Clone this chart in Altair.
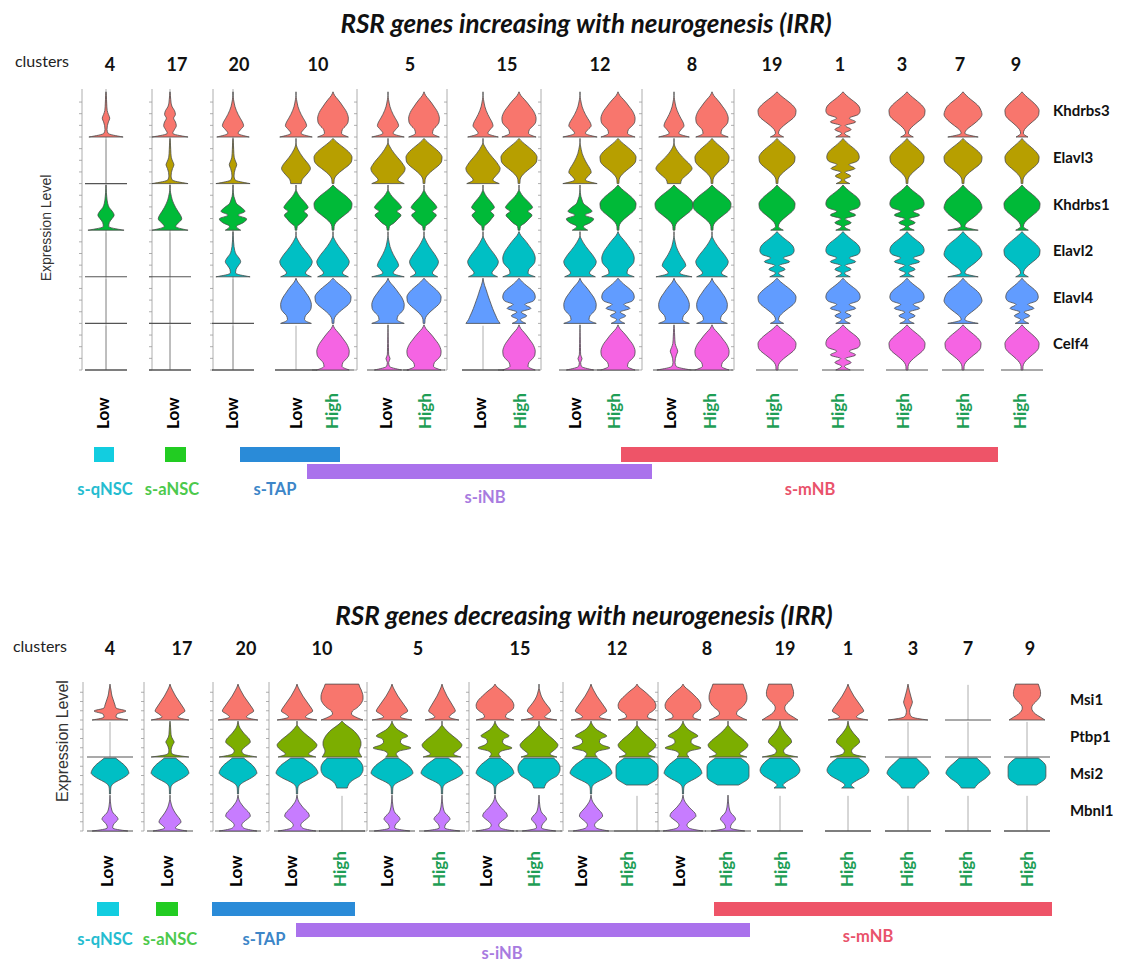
import altair as alt
import pandas as pd

# ------------------------------------------------------------------ data
TITLE_TOP = "RSR genes increasing with neurogenesis (IRR)"
TITLE_BOTTOM = "RSR genes decreasing with neurogenesis (IRR)"
CLUSTERS = ["4", "17", "20", "10", "5", "15", "12", "8", "19", "1", "3", "7", "9"]
# one entry per violin column (cluster, expression group)
COLUMN_CLUSTER = ["4", "17", "20", "10", "10", "5", "5", "15", "15", "12", "12", "8", "8",
                  "19", "1", "3", "7", "9"]
COLUMN_GROUP = ["Low", "Low", "Low", "Low", "High", "Low", "High", "Low", "High", "Low", "High",
                "Low", "High", "High", "High", "High", "High", "High"]

TOP_GENES = ["Khdrbs3", "Elavl3", "Khdrbs1", "Elavl2", "Elavl4", "Celf4"]
TOP_COLORS = ["#F8766D", "#B79F00", "#00BA38", "#00BFC4", "#619CFF", "#F564E3"]
BOTTOM_GENES = ["Msi1", "Ptbp1", "Msi2", "Mbnl1"]
BOTTOM_COLORS = ["#F8766D", "#7CAE00", "#00BFC4", "#C77CFF"]

CELL_TYPES = ["s-qNSC", "s-aNSC", "s-TAP", "s-iNB", "s-mNB"]
CELL_BAR_COLORS = ["#12CDE0", "#22CC22", "#2A8BD8", "#AA72EC", "#EE5468"]
CELL_TEXT_COLORS = ["#25BCD0", "#4CC94C", "#3D86C8", "#A87BDF", "#E9536B"]

# violin outlines: relative half-width at 13 equally
# spaced expression levels (bottom -> top); None = no cells at that level
SHAPES = {
    "spike":     [1.0, 0.12, 0.06, 0.08, 0.14, 0.22, 0.14, 0.07, 0.05, 0.04, 0.03, 0.02, 0.0],
    "spike2":    [1.0, 0.15, 0.25, 0.35, 0.3, 0.2, 0.3, 0.25, 0.12, 0.06, 0.04, 0.02, 0.0],
    "spikeD":    [1.0, 0.15, 0.18, 0.32, 0.45, 0.35, 0.18, 0.1, 0.06, 0.04, 0.02, 0.01, 0.0],
    "spikeB":    [0.9, 0.3, 0.35, 0.8, 0.3, 0.25, 0.2, 0.15, 0.1, 0.07, 0.05, 0.02, 0.0],
    "spikeHigh": [1.0, 0.2, 0.1, 0.08, 0.12, 0.18, 0.22, 0.18, 0.14, 0.1, 0.06, 0.03, 0.0],
    "tent":      [0.95, 0.3, 0.45, 0.62, 0.55, 0.42, 0.3, 0.2, 0.12, 0.07, 0.03, 0.0, 0.0],
    "tentTall":  [0.95, 0.4, 0.55, 0.75, 0.68, 0.58, 0.48, 0.38, 0.28, 0.2, 0.12, 0.05, 0.0],
    "pear":      [0.9, 0.5, 0.55, 0.75, 0.88, 0.9, 0.85, 0.75, 0.6, 0.45, 0.28, 0.1, 0.0],
    "mound":     [0.9, 0.55, 0.7, 0.88, 0.95, 0.85, 0.7, 0.52, 0.35, 0.2, 0.08, 0.0, 0.0],
    "diamond":   [0.35, 0.4, 0.6, 0.82, 0.95, 0.85, 0.65, 0.45, 0.28, 0.14, 0.04, 0.0, 0.0],
    "diamondF":  [1.0, 0.3, 0.2, 0.3, 0.5, 0.65, 0.6, 0.45, 0.3, 0.18, 0.08, 0.03, 0.0],
    "bulb":      [0.05, 0.06, 0.15, 0.35, 0.6, 0.85, 0.98, 1.0, 0.9, 0.7, 0.45, 0.2, 0.0],
    "bulbf":     [0.35, 0.08, 0.15, 0.35, 0.6, 0.85, 0.98, 1.0, 0.9, 0.7, 0.45, 0.2, 0.0],
    "bulbF2":    [0.8, 0.1, 0.2, 0.45, 0.7, 0.9, 1.0, 0.95, 0.85, 0.65, 0.4, 0.18, 0.0],
    "jag":       [0.4, 0.08, 0.45, 0.12, 0.7, 0.35, 0.85, 0.95, 0.9, 0.72, 0.45, 0.2, 0.0],
    "wiggle":    [0.45, 0.2, 0.6, 0.8, 0.3, 0.7, 0.5, 0.22, 0.12, 0.05, 0.02, 0.0, 0.0],
    "wiggleH":   [0.05, 0.08, 0.35, 0.55, 0.72, 0.5, 0.75, 0.62, 0.42, 0.22, 0.08, 0.0, 0.0],
    "wiggle2":   [0.3, 0.2, 0.35, 0.9, 0.55, 0.4, 0.45, 0.75, 0.55, 0.3, 0.15, 0.05, 0.0],
    "thin":      [0.8, 0.08, 0.04, 0.12, 0.04, 0.03, 0.03, 0.02, 0.02, 0.01, 0.01, 0.0, 0.0],
    "cone":      [1.0, 0.85, 0.75, 0.65, 0.56, 0.48, 0.4, 0.32, 0.25, 0.18, 0.1, 0.04, 0.0],
    "flat":      [1.0, 0.65, 0.45, 0.5, 0.7, 0.85, 0.95, 1.0, 1.0, 0.97, 0.92, 0.85, 0.8],
    "hourglass": [0.95, 0.7, 0.45, 0.3, 0.25, 0.3, 0.45, 0.6, 0.7, 0.72, 0.7, 0.65, 0.6],
    "dome":      [1.0, 0.9, 0.85, 0.9, 0.95, 0.95, 0.9, 0.82, 0.7, 0.55, 0.35, 0.15, 0.0],
    "top":       [0.03, 0.03, 0.04, 0.1, 0.3, 0.6, 0.85, 1.0, 0.95, 0.85, 0.7, 0.5, 0.3],
    "topF":      [None, None, 0.3, 0.15, 0.3, 0.55, 0.8, 0.95, 1.0, 0.95, 0.85, 0.7, 0.5],
    "topcut":    [None, None, 0.25, 0.3, 0.4, 0.6, 0.85, 0.95, 1.0, 1.0, 0.95, 0.85, 0.7],
    "topbox":    [None, None, 0.3, 0.4, 0.55, 0.75, 0.9, 1.0, 0.95, 0.85, 0.7, 0.55, 0.4],
    "topflat":   [None, None, None, 0.5, 0.75, 0.95, 1.0, 1.0, 1.0, 1.0, 0.95, 0.8, 0.6],
}

TOP_SHAPE = {
    "Khdrbs3": ["spike", "spike2", "tent", "tent", "pear", "tent", "pear", "tent", "pear", "tent", "pear", "tent", "pear", "bulbf", "jag", "bulbf", "bulbF2", "bulbf"],
    "Elavl3":  ["empty", "spike", "spike", "diamond", "bulb", "mound", "bulb", "mound", "bulb", "tent", "bulb", "diamond", "bulb", "bulb", "jag", "bulb", "bulb", "bulb"],
    "Khdrbs1": ["spikeD", "tent", "wiggle", "wiggleH", "bulb", "wiggleH", "wiggleH", "wiggleH", "wiggleH", "wiggle", "bulb", "bulb", "bulb", "bulbf", "jag", "jag", "bulbF2", "bulbf"],
    "Elavl2":  ["empty", "empty", "spikeD", "mound", "mound", "tent", "mound", "mound", "pear", "mound", "pear", "tent", "mound", "jag", "jag", "jag", "bulbF2", "bulbf"],
    "Elavl4":  ["empty", "empty", "empty", "pear", "bulb", "pear", "bulb", "cone", "jag", "pear", "jag", "pear", "pear", "bulbf", "jag", "jag", "bulbF2", "jag"],
    "Celf4":   ["empty", "empty", "empty", "empty", "pear", "thin", "pear", "empty", "pear", "thin", "pear", "spike", "pear", "bulb", "jag", "bulb", "bulb", "bulb"],
}
TOP_WIDTH = {
    "Khdrbs3": [0.9, 0.95, 0.9, 0.9, 0.9, 0.9, 0.9, 0.85, 1.0, 0.95, 1.0, 0.85, 0.95, 1.0, 0.95, 0.95, 1.0, 0.9],
    "Elavl3":  [1.0, 0.95, 0.9, 0.8, 1.0, 0.95, 0.95, 0.95, 0.95, 0.95, 0.95, 1.0, 0.9, 0.95, 0.9, 0.9, 1.0, 0.9],
    "Khdrbs1": [0.95, 1.0, 0.9, 0.85, 1.0, 0.95, 0.9, 0.8, 0.95, 0.9, 0.95, 1.0, 1.0, 0.95, 0.95, 0.95, 1.0, 0.95],
    "Elavl2":  [1.0, 1.0, 0.9, 0.9, 0.9, 0.9, 0.8, 0.85, 0.95, 0.9, 0.95, 1.0, 0.9, 0.95, 0.95, 0.95, 1.0, 0.95],
    "Elavl4":  [1.0, 1.0, 1.0, 0.9, 0.95, 0.95, 0.9, 0.9, 0.9, 0.95, 0.9, 0.9, 0.9, 1.0, 0.95, 0.95, 1.0, 0.9],
    "Celf4":   [1.0, 1.0, 1.0, 1.0, 0.95, 0.9, 1.0, 1.0, 0.95, 0.9, 1.0, 0.9, 1.0, 1.0, 0.95, 0.95, 0.95, 0.9],
}
BOTTOM_SHAPE = {
    "Msi1":  ["spikeB", "tentTall", "tentTall", "tentTall", "flat", "tentTall", "tentTall", "pear", "tent", "tentTall", "pear", "pear", "flat", "hourglass", "tentTall", "spikeHigh", "empty", "hourglass"],
    "Ptbp1": ["empty", "spike", "diamondF", "mound", "dome", "wiggle2", "mound", "wiggle2", "mound", "wiggle2", "mound", "wiggle2", "mound", "diamondF", "diamondF", "empty", "empty", "empty"],
    "Msi2":  ["top", "top", "top", "top", "topcut", "top", "top", "top", "topcut", "top", "topflat", "top", "topflat", "topF", "topF", "topbox", "topbox", "topflat"],
    "Mbnl1": ["spikeD", "tent", "diamondF", "diamondF", "empty", "spikeD", "spikeD", "diamondF", "spikeD", "diamondF", "empty", "diamondF", "spikeD", "empty", "empty", "empty", "empty", "empty"],
}
BOTTOM_WIDTH = {
    "Msi1":  [0.95, 0.95, 1.0, 1.0, 1.0, 1.0, 0.85, 1.0, 0.9, 1.0, 1.0, 0.95, 0.9, 0.9, 1.0, 0.95, 1.0, 0.9],
    "Ptbp1": [1.0, 0.9, 0.9, 1.0, 0.95, 1.0, 1.0, 0.9, 0.95, 1.0, 0.95, 0.95, 1.0, 0.85, 0.85, 1.0, 1.0, 1.0],
    "Msi2":  [0.9, 0.9, 0.9, 1.0, 1.0, 1.0, 1.0, 0.9, 1.0, 1.0, 1.0, 0.9, 1.0, 0.95, 1.0, 1.0, 1.05, 0.9],
    "Mbnl1": [0.85, 0.85, 0.9, 0.9, 1.0, 0.85, 0.85, 0.9, 0.8, 0.85, 1.0, 0.95, 0.8, 1.0, 1.0, 1.0, 1.0, 1.0],
}

# ------------------------------------------------------------------ layout (positions only)
LAYOUT = {
    "top": dict(
        title=TITLE_TOP, title_xy=(586, 25), clusters_xy=(42, 62), cluster_y=66,
        cluster_x=[110, 177, 239, 318, 410, 507, 600, 692, 772, 840, 902, 960, 1016],
        col_x=[106, 170, 233, 296, 333, 388, 424, 483, 519, 580, 618, 674, 712, 777, 843, 907, 963, 1022],
        label_x=[104, 174, 233, 297, 333, 387, 426, 481, 521, 576, 615, 671, 711, 774, 839, 904, 964, 1021],
        label_y=429, base0=137, row_h=46.6, hw=19, line_hw=21,
        axis_x=[82, 152, 213, 357, 447, 541, 642, 734], axis_top=89,
        genes=TOP_GENES, colors=TOP_COLORS, shape=TOP_SHAPE, width=TOP_WIDTH,
        gene_x=1053, ylab_xy=(47, 228), ylab_size=14,
        bars=[(94, 114, 447, 462), (165, 186, 447, 462), (240, 340, 447, 462),
              (307, 652, 464, 479), (621, 998, 447, 462)],
        bar_text=[(105, 490), (172, 490), (275, 490), (485, 498), (810, 490)],
        full_line_cols=[0, 1, 2],
    ),
    "bottom": dict(
        title=TITLE_BOTTOM, title_xy=(584, 617), clusters_xy=(40, 647), cluster_y=650,
        cluster_x=[110, 182, 246, 322, 418, 520, 617, 707, 785, 848, 913, 968, 1030],
        col_x=[110, 170, 238, 297, 342, 392, 442, 495, 539, 591, 637, 683, 728, 780, 848, 908, 968, 1027],
        label_x=[108, 168, 237, 292, 341, 388, 440, 487, 535, 582, 628, 680, 727, 782, 848, 908, 967, 1028],
        label_y=887, base0=720, row_h=37, hw=21, line_hw=23,
        axis_x=[83, 144, 213, 269, 367, 469, 563, 658], axis_top=682,
        genes=BOTTOM_GENES, colors=BOTTOM_COLORS, shape=BOTTOM_SHAPE, width=BOTTOM_WIDTH,
        gene_x=1070, ylab_xy=(63, 741), ylab_size=16,
        bars=[(97, 119, 902, 916), (156, 178, 902, 916), (212, 355, 902, 916),
              (296, 750, 923, 937), (714, 1052, 902, 916)],
        bar_text=[(105, 940), (170, 940), (264, 940), (502, 954), (868, 937)],
        full_line_cols=[],
    ),
}

XS = alt.Scale(domain=[8, 1120], nice=False, zero=False)
YS = alt.Scale(domain=[8, 965], nice=False, zero=False, reverse=True)
FONT = "Lato"

violins, rules_dark, rules_light, ticks = [], [], [], []
titles, clusters_word, cluster_nums, gene_labels, ylabels, levels, bars, bar_labels = [], [], [], [], [], [], [], []

for key, L in LAYOUT.items():
    genes = L["genes"]
    nrow = len(genes)
    bottom_base = L["base0"] + (nrow - 1) * L["row_h"]
    top_edge = L["axis_top"]
    titles.append(dict(x=L["title_xy"][0], y=L["title_xy"][1], text=L["title"], color="#111111"))
    clusters_word.append(dict(x=L["clusters_xy"][0], y=L["clusters_xy"][1], text="clusters", color="#222222"))
    for cx, c in zip(L["cluster_x"], CLUSTERS):
        cluster_nums.append(dict(x=cx, y=L["cluster_y"], text=c, color="#111111"))
    ylabels.append(dict(x=L["ylab_xy"][0], y=L["ylab_xy"][1], text="Expression Level",
                        color="#333333", size=L["ylab_size"]))
    # axes
    for ax in L["axis_x"]:
        rules_light.append(dict(x=ax, x2=ax, y=top_edge, y2=bottom_base))
        for gi in range(nrow):
            base = L["base0"] + gi * L["row_h"]
            for k in range(4):
                yy = base - k * L["row_h"] / 4
                ticks.append(dict(x=ax - 3, x2=ax, y=yy, y2=yy))
    for ci in L["full_line_cols"]:
        cx = L["col_x"][ci]
        rules_light.append(dict(x=cx, x2=cx, y=top_edge, y2=bottom_base))
    for ci, cx in enumerate(L["col_x"]):
        rules_dark.append(dict(x=cx - L["line_hw"], x2=cx + L["line_hw"], y=bottom_base, y2=bottom_base))
    # violins
    for gi, gene in enumerate(genes):
        base = L["base0"] + gi * L["row_h"]
        gene_labels.append(dict(x=L["gene_x"], y=base - 0.55 * L["row_h"], text=gene, color="#111111"))
        for ci, cx in enumerate(L["col_x"]):
            code = L["shape"][gene][ci]
            scale = L["width"][gene][ci]
            if code == "empty":
                rules_dark.append(dict(x=cx - L["line_hw"], x2=cx + L["line_hw"], y=base, y2=base))
                rules_light.append(dict(x=cx, x2=cx, y=base, y2=base - 0.95 * L["row_h"]))
                continue
            prof = SHAPES[code]
            n = len(prof) - 1
            for li, w in enumerate(prof):
                if w is None:
                    continue
                half = w * scale * L["hw"]
                violins.append(dict(vid=f"{key}-{gene}-{ci}",
                                    y=base - li / n * L["row_h"] * 0.97,
                                    xl=cx - half, xr=cx + half, fill=L["colors"][gi]))
    # Low / High
    for lx, g in zip(L["label_x"], COLUMN_GROUP):
        levels.append(dict(x=lx, y=L["label_y"], text=g, color="#000000" if g == "Low" else "#1E9E55"))
    # cell type bars
    for (x0, x1, y0, y1), name, bc, tc, (tx, ty) in zip(L["bars"], CELL_TYPES, CELL_BAR_COLORS,
                                                         CELL_TEXT_COLORS, L["bar_text"]):
        bars.append(dict(x=x0, x2=x1, y=y0, y2=y1, color=bc))
        bar_labels.append(dict(x=tx, y=ty, text=name, color=tc))


def pos():
    return dict(x=alt.X("x:Q", scale=XS, axis=None), y=alt.Y("y:Q", scale=YS, axis=None))


def rule_layer(rows, color, width):
    return alt.Chart(pd.DataFrame(rows)).mark_rule(color=color, strokeWidth=width).encode(
        x=alt.X("x:Q", scale=XS, axis=None), x2="x2:Q",
        y=alt.Y("y:Q", scale=YS, axis=None), y2="y2:Q")


def text_layer(rows, **kw):
    return alt.Chart(pd.DataFrame(rows)).mark_text(**kw).encode(
        **pos(), text="text:N", color=alt.Color("color:N", scale=None))


violin_layer = alt.Chart(pd.DataFrame(violins)).mark_area(
    orient="horizontal", interpolate="monotone", stroke="#4a4a4a", strokeWidth=0.8, opacity=1
).encode(
    y=alt.Y("y:Q", scale=YS, axis=None),
    x=alt.X("xl:Q", scale=XS, axis=None), x2="xr:Q",
    fill=alt.Fill("fill:N", scale=None),
    detail="vid:N",
)

bar_layer = alt.Chart(pd.DataFrame(bars)).mark_rect().encode(
    x=alt.X("x:Q", scale=XS, axis=None), x2="x2:Q",
    y=alt.Y("y:Q", scale=YS, axis=None), y2="y2:Q",
    color=alt.Color("color:N", scale=None))

ylab_layer = alt.Chart(pd.DataFrame(ylabels)).mark_text(
    angle=270, font="Liberation Sans", align="center", baseline="middle").encode(
    **pos(), text="text:N", color=alt.Color("color:N", scale=None), size=alt.Size("size:Q", scale=None))

layers = [
    rule_layer(rules_light, "#9a9a9a", 0.8),
    rule_layer(ticks, "#9a9a9a", 0.8),
    rule_layer(rules_dark, "#555555", 1.1),
    violin_layer,
    text_layer(titles, font=FONT, fontSize=26, fontWeight="bold", fontStyle="italic", align="center", baseline="middle"),
    text_layer(clusters_word, font=FONT, fontSize=16, align="center", baseline="middle"),
    text_layer(cluster_nums, font=FONT, fontSize=18, fontWeight="bold", align="center", baseline="middle"),
    text_layer(gene_labels, font=FONT, fontSize=15, fontWeight="bold", align="left", baseline="middle"),
    ylab_layer,
    text_layer(levels, font=FONT, fontSize=17, fontWeight="bold", angle=270, align="left", baseline="middle"),
    bar_layer,
    text_layer(bar_labels, font=FONT, fontSize=16.5, fontWeight="bold", align="center", baseline="middle"),
]

chart = alt.layer(*layers).properties(
    width=1112, height=957, padding=0, autosize=alt.AutoSizeParams(type="none")
).configure_view(stroke=None)

chart.save("out.html", embed_options={"renderer": "svg", "actions": False})
